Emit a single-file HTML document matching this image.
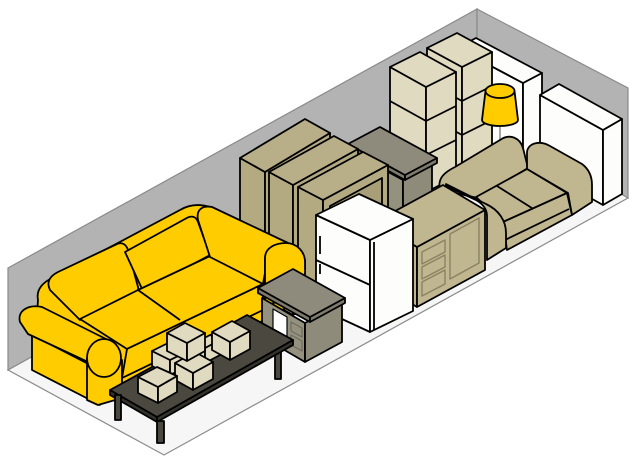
<!DOCTYPE html>
<html><head><meta charset="utf-8"><style>html,body{margin:0;padding:0;background:#fff}svg{display:block}</style></head>
<body>
<svg width="640" height="457" viewBox="0 0 640 457" xmlns="http://www.w3.org/2000/svg">
<g stroke="#8a8a8a" stroke-width="1.2">
<polygon points="8,268 477,9 477,110 8,370" fill="#b3b3b3"/>
<polygon points="477,9 628,88 628,198 477,110" fill="#b3b3b3"/>
<polygon points="8,370 477,110 628,198 164,455" fill="#f6f6f6"/>
</g>
<g stroke="#000" stroke-width="1.8" stroke-linejoin="round">
<polygon points="457,48 523,83 523,168 457,133" fill="#fdfdfb"/>
<polygon points="523,83 542,73 542,158 523,168" fill="#fdfdfb"/>
<polygon points="523,83 457,48 476,38 542,73" fill="#fdfdfb"/>
<polygon points="427,48 462,67 462,172 427,153" fill="#e0dac0"/>
<polygon points="462,67 492,52 492,157 462,172" fill="#e0dac0"/>
<polygon points="462,67 427,48 457,33 492,52" fill="#e0dac0"/>
<polyline points="427,82 462,101 492,86" fill="none"/>
<polyline points="427,116 462,135 492,120" fill="none"/>
<polygon points="390,67 426,87 426,192 390,172" fill="#e0dac0"/>
<polygon points="426,87 456,72 456,177 426,192" fill="#e0dac0"/>
<polygon points="426,87 390,67 420,52 456,72" fill="#e0dac0"/>
<polyline points="390,101 426,121 456,106" fill="none"/>
<polyline points="390,135 426,155 456,140" fill="none"/>
<line x1="500" y1="124" x2="500" y2="150" stroke="#888" stroke-width="1.5"/>
<path d="M485.5,91 L482,120 A18,6 0 0 0 518,120 L514.5,91 Z" fill="#ffcc00"/>
<ellipse cx="500" cy="91" rx="14.5" ry="7" fill="#ffcc00"/>
<polygon points="540,95 603,130 603,205 540,170" fill="#fdfdfb"/>
<polygon points="603,130 622,119 622,194 603,205" fill="#fdfdfb"/>
<polygon points="603,130 540,95 559,84 622,119" fill="#fdfdfb"/>
<polygon points="355,154 403,180 403,230 355,204" fill="#95917f"/>
<polygon points="403,180 432,165 432,215 403,230" fill="#8f8b7a"/>
<polygon points="348,144 405,175 405,180 348,149" fill="#7f7b6c"/>
<polygon points="405,175 437,158 437,163 405,180" fill="#7f7b6c"/>
<polygon points="405,175 348,144 380,127 437,158" fill="#8f8b7c"/>
<polygon points="240,158 265,172 265,302 240,288" fill="#b3aa82"/>
<polygon points="265,172 330,133 330,263 265,302" fill="#b3aa82"/>
<polygon points="265,172 240,158 305,119 330,133" fill="#b8ae88"/>
<polygon points="269,172 293,185 293,315 269,302" fill="#b3aa82"/>
<polygon points="293,185 358,149 358,279 293,315" fill="#b3aa82"/>
<polygon points="293,185 269,172 334,136 358,149" fill="#b8ae88"/>
<polygon points="298,187 323,200 323,320 298,307" fill="#b3aa82"/>
<polygon points="323,200 388,165 388,285 323,320" fill="#b3aa82"/>
<polygon points="323,200 298,187 363,152 388,165" fill="#b8ae88"/>
<polygon points="330,206 382,178 382,270 330,298" fill="#a89f78"/>
<!-- loveseat -->
<path d="M440,190 C437,178 445,172 455,167 L500,140 C510,133 520,138 523,148 L528,168 L478,198 Z" fill="#c0b690"/>
<path d="M527,152 C528,143 540,140 550,146 L582,164 C590,170 592,178 592,185 L592,202 L572,215 L568,193 L527,169 Z" fill="#c0b690"/>
<polygon points="476,197 527,169 567,193 503,222" fill="#c0b690"/>
<line x1="497" y1="186" x2="535" y2="210"/>
<polygon points="503,222 567,193 572,215 507,250" fill="#c0b690"/>
<line x1="505" y1="240" x2="569" y2="209"/>
<path d="M446,184 L486,204 C499,210 506,221 506,233 L506,248 L487,260 L487,216 C487,209 483,204 476,200 L446,186 Z" fill="#c0b690"/>
<!-- dresser -->
<polygon points="375,222 417,247 417,307 375,282" fill="#c0b690"/>
<polygon points="417,247 485,210 485,270 417,307" fill="#c0b690"/>
<polygon points="417,247 375,222 443,185 485,210" fill="#c0b690"/>
<g stroke="#8a8262" stroke-width="1.4" fill="none">
<polygon points="422,252 445,240 445,252 422,264"/>
<polygon points="422,267 445,255 445,267 422,279"/>
<polygon points="422,282 445,270 445,284 422,296"/>
<polygon points="450,234 479,218 479,263 450,279"/>
</g>
<!-- fridge -->
<polygon points="316,215 370,240 370,332 316,307" fill="#fdfdfb"/>
<polygon points="370,240 413,219 413,311 370,332" fill="#fdfdfb"/>
<polygon points="370,240 316,215 359,194 413,219" fill="#fdfdfb"/>
<line x1="316" y1="260" x2="370" y2="285"/>
<line x1="374" y1="242" x2="374" y2="330"/>
<line x1="320" y1="236" x2="320" y2="254"/>
<line x1="320" y1="264" x2="320" y2="274"/>
<!-- yellow sofa -->
<path d="M38,300 C36,290 42,283 52,278 L180,210 C190,204 200,204 210,207 L290,244 C300,250 305,258 305,268 L300,300 L120,400 L33,368 Z" fill="#ffcc00"/>
<path d="M50,290 C46,282 50,276 58,272 L117,244 C122,242 126,244 128,250 L138,287 C139,291 136,293 132,295 L80,320 Z" fill="#ffcc00"/>
<path d="M125,252 L185,219 C191,215 196,216 198,222 L210,255 L143,291 Z" fill="#ffcc00"/>
<polygon points="80,319 138,290 210,256 263,284 127,349" fill="#ffcc00"/>
<line x1="138" y1="290" x2="180" y2="320"/>
<polygon points="127,349 263,284 263,310 122,378" fill="#ffcc00"/>
<path d="M198,220 C196,210 202,205 212,207 L288,243 C292,246 293,250 290,255 L268,256 L263,284 L210,257 Z" fill="#ffcc00"/>
<polygon points="265,258 305,260 305,292 265,306" fill="#ffcc00"/>
<path d="M265,290 L265,258 C265,248 275,243 286,243 C297,243 305,252 305,262 L305,270" fill="#ffcc00"/>
<polygon points="32,335 100,370 100,405 32,370" fill="#ffcc00"/>
<path d="M20,322 C17,311 28,304 42,307 L108,340 L88,362 L28,334 Z" fill="#ffcc00"/>
<polygon points="87,358 122,360 122,398 98,405 87,400" fill="#ffcc00"/>
<ellipse cx="104" cy="358" rx="17" ry="19" fill="#ffcc00"/>
<!-- N2 -->
<polygon points="262,298 305,323 305,362 262,337" fill="#95917f"/>
<polygon points="305,323 342,303 342,342 305,362" fill="#8f8b7a"/>
<polygon points="273,309 287,317 287,337 273,329" fill="#fff" stroke-width="1.2"/>
<g stroke="#6f6b5e" stroke-width="1.2" fill="none">
<polygon points="291,322 302,328 302,337 291,331"/>
<polygon points="291,335 302,341 302,351 291,345"/>
</g>
<polygon points="258,288 310,317 310,322 258,293" fill="#7f7b6c"/>
<polygon points="310,317 345,298 345,303 310,322" fill="#7f7b6c"/>
<polygon points="310,317 258,288 293,269 345,298" fill="#8f8b7c"/>
<!-- table -->
<rect x="275" y="343" width="6" height="36" fill="#4b4840"/>
<polygon points="110,390 157,417 157,422 110,395" fill="#35322c"/>
<polygon points="157,417 293,340 293,345 157,422" fill="#35322c"/>
<polygon points="110,390 247,315 293,340 157,417" fill="#4b4840"/>
<rect x="115" y="395" width="6" height="25" fill="#4b4840"/>
<rect x="157" y="421" width="7" height="22" fill="#4b4840"/>
<g fill="#e0dac0">
<polygon points="152,351 170,360 170,375 152,366"/><polygon points="170,360 188,351 188,366 170,375"/><polygon points="170,360 152,351 170,342 188,351"/>
<polygon points="195,343 205,348 205,363 195,358"/><polygon points="205,348 220,340 220,355 205,363"/><polygon points="205,348 195,343 210,335 220,340"/>
<polygon points="212,332 230,342 230,360 212,350"/><polygon points="230,342 250,331 250,349 230,360"/><polygon points="230,342 212,332 232,321 250,331"/>
<polygon points="175,363 193,373 193,390 175,380"/><polygon points="193,373 213,362 213,379 193,390"/><polygon points="193,373 175,363 195,352 213,362"/>
<polygon points="167,333 187,343 187,361 167,351"/><polygon points="187,343 205,333 205,351 187,361"/><polygon points="187,343 167,333 185,323 205,333"/>
<polygon points="138,377 158,387 158,403 138,393"/><polygon points="158,387 177,376 177,392 158,403"/><polygon points="158,387 138,377 157,367 177,376"/>
</g>
</g>
</svg>
</body></html>
